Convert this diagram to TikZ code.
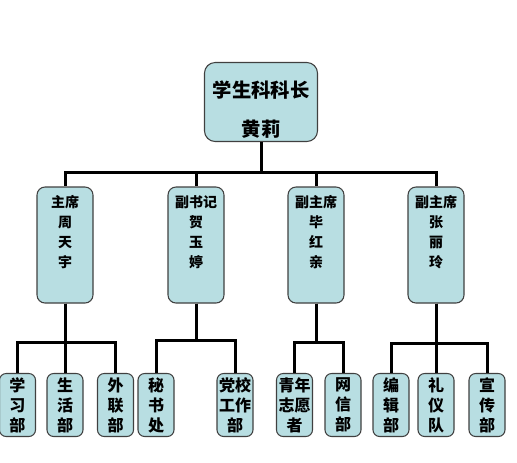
\documentclass[tikz,border=0pt]{standalone}
\usepackage{fontspec}
\newfontfamily\cjk{Noto Sans CJK SC}
\usetikzlibrary{positioning}
\definecolor{boxaqua}{RGB}{184,222,226}
\definecolor{boxedge}{RGB}{64,64,64}

\begin{document}
\begin{tikzpicture}[x=0.75pt, y=-0.75pt,
  base/.style={draw=boxedge, fill=boxaqua, line width=0.8pt, align=center, inner sep=1pt},
  headbox/.style={base, rounded corners=8pt, minimum width=84.75pt, minimum height=59.25pt, font=\cjk\bfseries\fontsize{14.5}{29}\selectfont},
  chairbox/.style={base, rounded corners=6pt, minimum width=42pt, minimum height=87pt, font=\cjk\bfseries\fontsize{10.5}{15}\selectfont},
  deptbox/.style={base, rounded corners=5pt, minimum width=27pt, minimum height=47.25pt, font=\cjk\bfseries\fontsize{12}{15}\selectfont},
  link/.style={line width=2.25pt},
]
\useasboundingbox (0,0) rectangle (517,462);
% head of the office
\node[headbox] (head) at (261,102) {\rule{0pt}{24pt}学生科科长\\黄莉};
% chairs
\node[chairbox] (c1) at (65,245) {主席\\周\\天\\宇\rule[-20pt]{0pt}{20pt}};
\node[chairbox] (c2) at (196,245) {副书记\\贺\\玉\\婷\rule[-20pt]{0pt}{20pt}};
\node[chairbox] (c3) at (316,245) {副主席\\毕\\红\\亲\rule[-20pt]{0pt}{20pt}};
\node[chairbox] (c4) at (436,245) {副主席\\张\\丽\\玲\rule[-20pt]{0pt}{20pt}};
% departments
\node[deptbox] (d1) at (17.5,405) {学\\习\\部};
\node[deptbox] (d2) at (65,405) {生\\活\\部};
\node[deptbox] (d3) at (115.5,405) {外\\联\\部};
\node[deptbox] (d4) at (156,405) {秘\\书\\处};
\node[deptbox] (d5) at (235,405) {党校\\工作\\部};
\node[deptbox] (d6) at (294.5,405) {青年\\志愿\\者};
\node[deptbox] (d7) at (343,405) {网\\信\\部};
\node[deptbox] (d8) at (391,405) {编\\辑\\部};
\node[deptbox] (d9) at (436,405) {礼\\仪\\队};
\node[deptbox] (d10) at (487,405) {宣\\传\\部};
% links
\foreach \c in {c1,c2,c3,c4}
  \draw[link] (head.south) -- ++(0,30) -| (\c.north);
\foreach \d in {d1,d2,d3}
  \draw[link] (c1.south) -- ++(0,39) -| (\d.north);
\foreach \d in {d4,d5}
  \draw[link] (c2.south) -- ++(0,37) -| (\d.north);
\foreach \d in {d6,d7}
  \draw[link] (c3.south) -- ++(0,39) -| (\d.north);
\foreach \d in {d8,d9,d10}
  \draw[link] (c4.south) -- ++(0,40) -| (\d.north);
\end{tikzpicture}
\end{document}
